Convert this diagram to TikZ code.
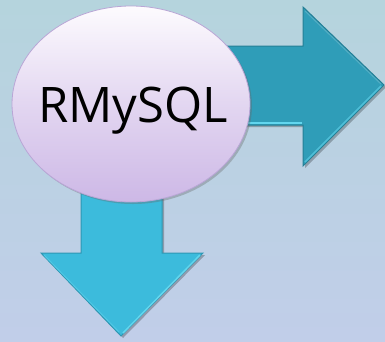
\documentclass[tikz,border=0pt]{standalone}
\usepackage{fontspec}
\setmainfont{Open Sans}
\usetikzlibrary{shapes.geometric,shadows,shadings}
\definecolor{bgtop}{HTML}{B5D4DD}
\definecolor{bgbot}{HTML}{C1CEE9}
\definecolor{rarrow}{HTML}{2F9DB8}
\definecolor{rarrowdk}{HTML}{257F96}
\definecolor{darrow}{HTML}{3CBBDC}
\definecolor{darrowdk}{HTML}{2E97B3}
\definecolor{bevel}{HTML}{62D6EE}
\definecolor{lavtop}{HTML}{FDFBFE}
\definecolor{lavbot}{HTML}{CDB8E6}
\definecolor{lavedge}{HTML}{B9A6D6}
\tikzset{
  arrowshape/.style={line join=miter, line width=1pt},
  dbnode/.style={ellipse, minimum width=238pt, minimum height=196pt, inner sep=0pt,
    top color=lavtop, bottom color=lavbot, middle color=lavtop!45!lavbot,
    draw=lavedge, line width=0.8pt,
    drop shadow={shadow xshift=2pt, shadow yshift=-2pt, opacity=0.35, fill=black!60}},
  dblabel/.style={anchor=base, inner sep=0pt, font=\fontsize{49}{49}\selectfont, text=black}
}
\begin{document}
\begin{tikzpicture}[x=1pt,y=-1pt]
\useasboundingbox (0,0) rectangle (385,341);
\shade[top color=bgtop, bottom color=bgbot] (0,0) rectangle (385,341);
% right arrow
\coordinate (rs1) at (225,46);
\coordinate (rs2) at (225,125);
\coordinate (rtip) at (384,85);
\fill[black, opacity=0.25] ([shift={(2,2)}]rs1) -- (305,48) -- (305,9) -- (386,87) -- (305,168) -- (305,127) -- ([shift={(2,2)}]rs2) -- cycle;
\fill[rarrow, draw=rarrowdk, arrowshape] (rs1) -- (303,46) -- (303,7) -- (rtip) -- (303,166) -- (303,125) -- (rs2) -- cycle;
\draw[bevel, line width=1.5pt] (230,123) -- (302,123);
\draw[bevel!60!rarrow, line width=1.5pt] (305,162) -- (381,86);
\draw[rarrow!70!white, line width=1pt, opacity=0.6] (305,11) -- (381,84);
% down arrow
\coordinate (ds1) at (81,180);
\coordinate (ds2) at (162,180);
\coordinate (dtip) at (121,336);
\fill[black, opacity=0.25] (83,182) -- (83,255) -- (43,255) -- (123,338) -- (205,255) -- (164,255) -- (164,182) -- cycle;
\fill[darrow, draw=darrowdk, arrowshape] (ds1) -- (81,253) -- (41,253) -- (dtip) -- (203,253) -- (162,253) -- (ds2) -- cycle;
\draw[bevel, line width=1.5pt] (123,333) -- (200,255);
\draw[bevel!50!darrow, line width=1pt] (44,255) -- (119,332);
% ellipse
\node[dbnode] (db) at (131,104) {};
\node[dblabel] (txt) at (133,122) {RMySQL};
\end{tikzpicture}
\end{document}
